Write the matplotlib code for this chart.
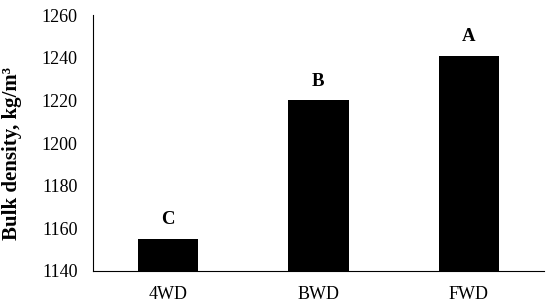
import numpy as np
import matplotlib.pyplot as plt

plt.rcParams['font.family'] = ['Liberation Serif', 'DejaVu Serif']

drives = ['4WD', 'BWD', 'FWD']
density = [1155, 1220, 1241]
letters = ['C', 'B', 'A']

fig = plt.figure(figsize=(5.5, 3.04), dpi=100)
ax = fig.add_axes([0.169, 0.1086, 0.82, 0.842])

x = np.arange(len(drives))
ax.bar(x, density, width=0.4, color='black')
for xi, d, l in zip(x, density, letters):
    ax.text(xi, d + 5, l, ha='center', va='bottom', fontsize=13.5, fontweight='bold')

ax.set_xlim(-0.5, 2.5)
ax.set_ylim(1140, 1260)
ax.set_yticks(np.arange(1140, 1261, 20))
ax.set_xticks(x)
ax.set_xticklabels(drives)
ax.tick_params(length=0, labelsize=13)
ax.tick_params(axis='y', pad=11)
ax.tick_params(axis='x', pad=10.5)
for s in ['top', 'right']:
    ax.spines[s].set_visible(False)
ax.set_ylabel('Bulk density, kg/m\u00b3', fontsize=15, fontweight='bold')
ax.yaxis.set_label_coords(-0.157, 0.46)

fig.savefig('out.png', dpi=100)
